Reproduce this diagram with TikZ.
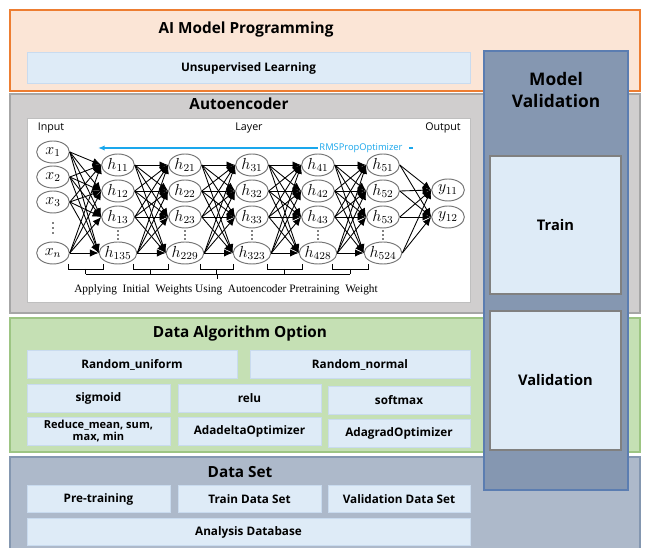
\documentclass[tikz,border=0pt]{standalone}
\usepackage{fontspec}
\setsansfont{Open Sans}
\newfontfamily\timesfont{Liberation Serif}
\usetikzlibrary{shapes.geometric,arrows.meta}

\definecolor{peach}{HTML}{FBE5D6}
\definecolor{orangeline}{HTML}{ED7D31}
\definecolor{boxblue}{HTML}{DEEBF7}
\definecolor{boxline}{HTML}{C9DBEF}
\definecolor{greypanel}{HTML}{D0CECE}
\definecolor{greyline}{HTML}{A6A6A6}
\definecolor{greenpanel}{HTML}{C5E0B4}
\definecolor{greenline}{HTML}{9DC583}
\definecolor{slatepanel}{HTML}{ADB9CA}
\definecolor{slateline}{HTML}{8497B0}
\definecolor{validcol}{HTML}{8597B1}
\definecolor{validline}{HTML}{5B7DB1}
\definecolor{rmsblue}{HTML}{1AA7EC}

\tikzset{
  lbox/.style={fill=boxblue, draw=boxline, line width=0.6pt},
  boxtxt/.style={font=\sffamily\bfseries\fontsize{8.8}{9.8}\selectfont, align=center, inner sep=0pt},
  tvbox/.style={fill=boxblue, draw=black!50, line width=1pt},
  tvtxt/.style={font=\sffamily\bfseries\fontsize{11}{13}\selectfont},
  headlbl/.style={font=\sffamily\bfseries\fontsize{11.5}{14}\selectfont, align=center},
  unit/.style={ellipse, draw=black!55, line width=0.7pt, fill=white,
    minimum width=24.5pt, minimum height=16.5pt, inner sep=0pt,
    font=\fontsize{11.5}{12}\selectfont},
  link/.style={line width=0.65pt, -{Latex[length=6.5pt,width=5.5pt]}},
  netlbl/.style={font=\sffamily\fontsize{8}{9}\selectfont},
}

\begin{document}
\begin{tikzpicture}[x=0.75pt,y=-0.75pt]
\useasboundingbox (0,0) rectangle (646,548);

% layer panels
\draw[fill=peach, draw=orangeline, line width=1.2pt] (10,10) rectangle (640,91);
\draw[fill=greypanel, draw=greyline, line width=1pt] (10,94) rectangle (640,313);
\draw[fill=greenpanel, draw=greenline, line width=1pt] (10,318) rectangle (640,452);
\draw[fill=slatepanel, draw=slateline, line width=1pt] (10,457) rectangle (640,560);

% model validation column
\draw[fill=validcol, draw=validline, line width=0.8pt] (484,51) rectangle (628,490);
\node[headlbl, font=\sffamily\bfseries\fontsize{13}{17}\selectfont] (mvtitle) at (556,90) {Model\\Validation};
\draw[tvbox] (490,156) rectangle (621,294);
\node[tvtxt] (train) at (555.5,225) {Train};
\draw[tvbox] (490,311) rectangle (621,450);
\node[tvtxt] (valid) at (555.5,380.5) {Validation};

% AI model programming
\node[headlbl] (aiprog) at (246,30) {AI Model Programming};
\draw[lbox] (27,52) rectangle (470,83);
\node[boxtxt] (unsup) at (248.5,68) {Unsupervised Learning};

% autoencoder
\node[headlbl] (autoenc) at (239,104) {Autoencoder};
\draw[fill=white, draw=black!25] (27,118) rectangle (470,302);
\node[netlbl] (inlbl) at (51,128) {Input};
\node[netlbl] (laylbl) at (249,128) {Layer};
\node[netlbl] (outlbl) at (443,128) {Output};
\node[font=\sffamily\fontsize{7}{8}\selectfont, text=rmsblue, inner sep=1pt] (rms) at (361,148) {RMSPropOptimizer};
\coordinate (rmsend) at (98,148);
\draw[rmsblue, line width=1.2pt, -{Latex[length=5pt,width=4pt]}] (rms.west) -- (rmsend);
\draw[rmsblue, line width=1.2pt] ([xshift=4pt]rms.east) -- ++(4,0);

% units
\foreach \n/\y/\t in {1/152/x_1,2/177/x_2,3/202/x_3,4/253/x_n}
  \node[unit] (x\n) at (53,\y) {$\t$};
\foreach \d in {-5,0,5}
  \fill (53,228+\d) circle (0.7pt);
\foreach \l/\xx/\last in {1/118/135,2/185/229,3/252/323,4/318/428,5/383/524} {
  \foreach \n/\y/\s in {1/165/\l1,2/191/\l2,3/217/\l3,4/253/\last}
    \node[unit] (h\l\n) at (\xx,\y) {$h_{\s}$};
  \foreach \d in {-4,0,4}
    \fill (\xx,235+\d) circle (0.7pt);
}
\node[unit] (y1) at (448,190) {$y_{11}$};
\node[unit] (y2) at (448,217) {$y_{12}$};

% weights
\foreach \i in {1,...,4}
  \foreach \j in {1,...,4}
    \draw[link] (x\i.east) -- (h1\j.west);
\foreach \l [evaluate=\l as \m using int(\l+1)] in {1,...,4}
  \foreach \i in {1,...,4}
    \foreach \j in {1,...,4}
      \draw[link] (h\l\i.east) -- (h\m\j.west);
\foreach \i in {1,...,4}
  \foreach \j in {1,2}
    \draw[link] (h5\i.east) -- (y\j.west);

% pretraining brackets
\foreach \a/\b in {68/103,133/168,200/233,267/302,332/368} {
  \draw[line width=0.5pt] (\a,264) -- (\a,269) -- (\b,269) -- (\b,264);
  \draw[line width=0.5pt] ({(\a+\b)/2},269) -- ({(\a+\b)/2},274);
}
\draw[line width=0.5pt] (85.5,274) -- (350,274);
\draw[line width=0.5pt] (217,274) -- (217,279);
\node[font=\timesfont\fontsize{8.5}{10}\selectfont] (pretrain) at (226,290)
  {Applying\ \ Initial\ \ Weights Using\ \ Autoencoder Pretraining\ \ Weight};

% data algorithm option
\node[headlbl] (dataalg) at (240,334) {Data Algorithm Option};
\draw[lbox] (27,350) rectangle (237,378);
\node[boxtxt] (runif) at (132,364.5) {Random\_uniform};
\draw[lbox] (250,350) rectangle (470,378);
\node[boxtxt] (rnorm) at (360,364.5) {Random\_normal};
\draw[lbox] (27,384) rectangle (170,412);
\node[boxtxt] (sigm) at (98.5,398.5) {sigmoid};
\draw[lbox] (178,384) rectangle (321,412);
\node[boxtxt] (relu) at (249.5,398.5) {relu};
\draw[lbox] (328,386) rectangle (470,414);
\node[boxtxt] (smax) at (399,400.5) {softmax};
\draw[lbox] (27,417) rectangle (170,445);
\node[boxtxt, font=\sffamily\bfseries\fontsize{8.3}{9.3}\selectfont] (reduce) at (98.5,431) {Reduce\_mean, sum,\\max, min};
\draw[lbox] (178,417) rectangle (321,445);
\node[boxtxt] (adadelta) at (249.5,431.5) {AdadeltaOptimizer};
\draw[lbox] (328,419) rectangle (470,447);
\node[boxtxt] (adagrad) at (399,433.5) {AdagradOptimizer};

% data set
\node[headlbl] (dataset) at (240,472) {Data Set};
\draw[lbox] (27,485) rectangle (170,512);
\node[boxtxt] (pretr) at (98.5,499) {Pre-training};
\draw[lbox] (178,485) rectangle (321,512);
\node[boxtxt] (trainds) at (249.5,499) {Train Data Set};
\draw[lbox] (328,485) rectangle (470,512);
\node[boxtxt] (validds) at (399,499) {Validation Data Set};
\draw[lbox] (27,518) rectangle (470,545);
\node[boxtxt] (analysis) at (248.5,532) {Analysis Database};
\end{tikzpicture}
\end{document}
